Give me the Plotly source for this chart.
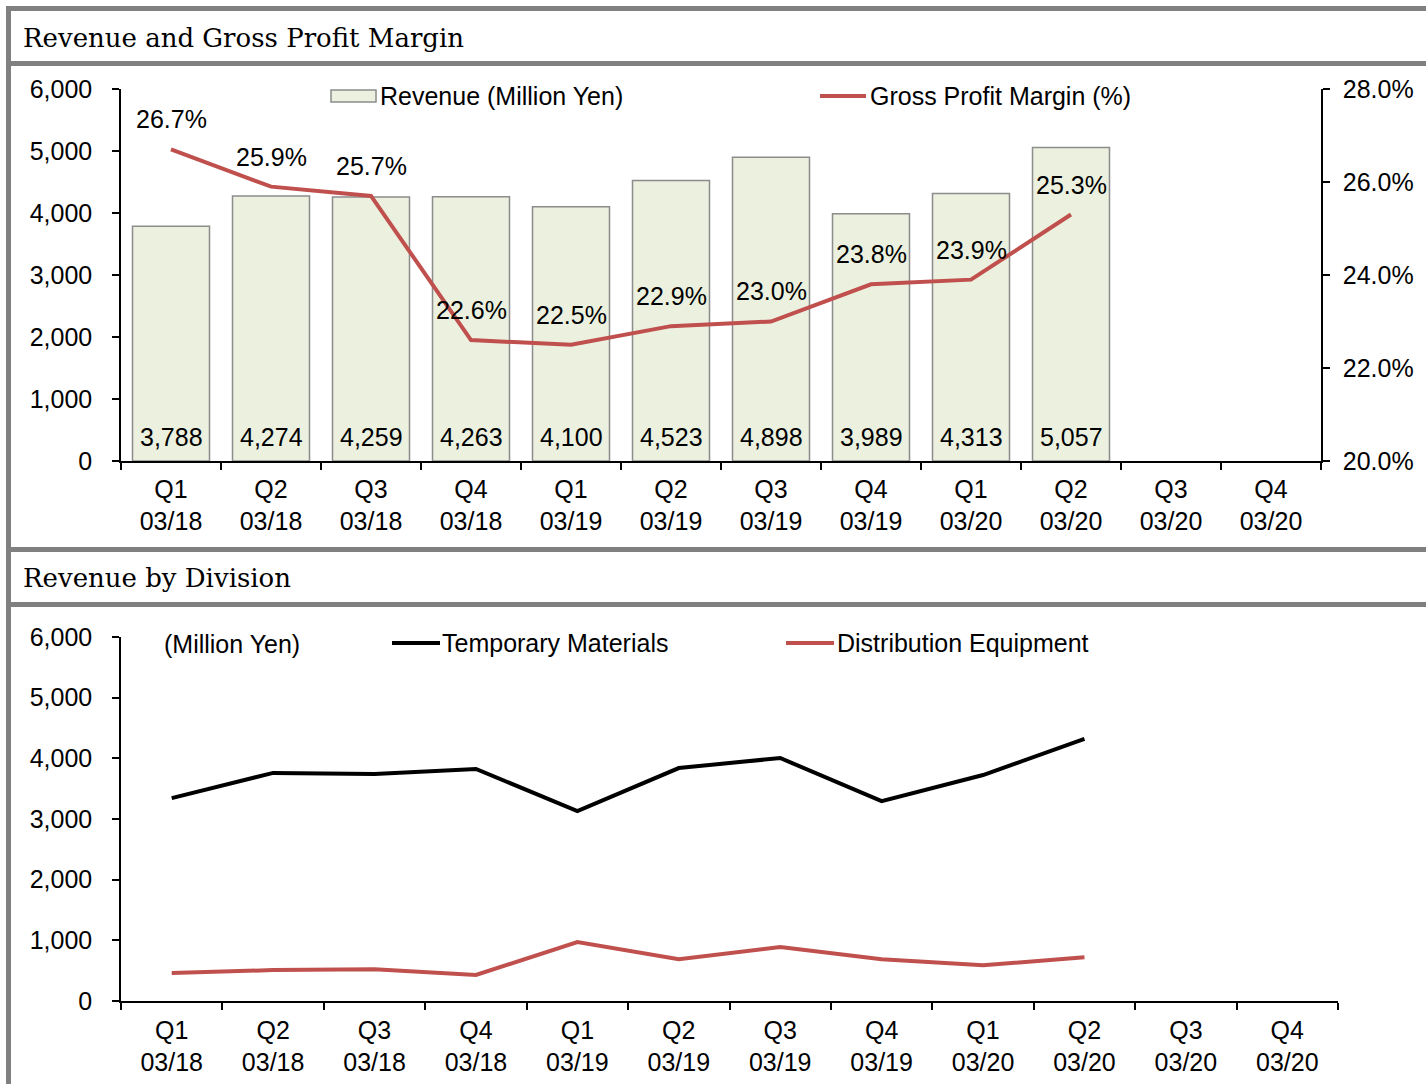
import plotly.graph_objects as go

W, H = 1426, 1084

categories = ["Q1<br>03/18", "Q2<br>03/18", "Q3<br>03/18", "Q4<br>03/18",
              "Q1<br>03/19", "Q2<br>03/19", "Q3<br>03/19", "Q4<br>03/19",
              "Q1<br>03/20", "Q2<br>03/20", "Q3<br>03/20", "Q4<br>03/20"]
revenue = [3788, 4274, 4259, 4263, 4100, 4523, 4898, 3989, 4313, 5057]
gross_margin = [26.7, 25.9, 25.7, 22.6, 22.5, 22.9, 23.0, 23.8, 23.9, 25.3]
temporary_materials = [3345, 3760, 3740, 3825, 3130, 3840, 4005, 3295, 3725, 4320]
distribution_equipment = [460, 510, 525, 430, 970, 690, 890, 690, 590, 720]

FONT = "Liberation Sans"
SERIF = "DejaVu Serif"
FS = 25
RED = "#C0504D"
BAR_FILL = "#EBF1DE"
BAR_LINE = "#8C8C8C"
FRAME = "#808080"


def px(x):
    return x / W


def py(y):
    return 1 - y / H


fig = go.Figure()

n = len(revenue)
fig.add_trace(go.Bar(
    x=categories[:n], y=revenue, xaxis="x", yaxis="y",
    marker=dict(color=BAR_FILL, line=dict(color=BAR_LINE, width=1.5)),
    width=0.77, showlegend=False, hoverinfo="skip"))
fig.add_trace(go.Scatter(
    x=categories[:n], y=gross_margin, xaxis="x", yaxis="y2", mode="lines",
    line=dict(color=RED, width=4), showlegend=False, hoverinfo="skip"))
fig.add_trace(go.Scatter(
    x=categories[:len(temporary_materials)], y=temporary_materials, xaxis="x3", yaxis="y3",
    mode="lines", line=dict(color="#000000", width=4), showlegend=False, hoverinfo="skip"))
fig.add_trace(go.Scatter(
    x=categories[:len(distribution_equipment)], y=distribution_equipment, xaxis="x3", yaxis="y3",
    mode="lines", line=dict(color=RED, width=4), showlegend=False, hoverinfo="skip"))

axis_common = dict(showline=True, linecolor="#000000", linewidth=1.5, ticks="outside",
                   ticklen=7, tickcolor="#000000", tickwidth=1.5, showgrid=False,
                   zeroline=False, automargin=False,
                   tickfont=dict(family=FONT, size=FS, color="#000000"))

fig.update_layout(
    width=W, height=H, margin=dict(l=0, r=0, t=0, b=0, pad=0, autoexpand=False),
    paper_bgcolor="white", plot_bgcolor="white", showlegend=False,
    font=dict(family=FONT, size=FS, color="#000000"),
    xaxis=dict(domain=[px(121), px(1321)], anchor="y", type="category",
               categoryorder="array", categoryarray=categories, range=[-0.5, 11.5],
               tickson="boundaries", ticklabelstandoff=5, **axis_common),
    yaxis=dict(domain=[py(461), py(89)], anchor="x", range=[0, 6000], dtick=1000,
               tickformat=",", ticklabelstandoff=15, **axis_common),
    yaxis2=dict(overlaying="y", anchor="x", side="right", range=[20, 28], dtick=2,
                tickformat=".1f", ticksuffix="%", ticklabelstandoff=8, **axis_common),
    xaxis3=dict(domain=[px(121), px(1338)], anchor="y3", type="category",
                categoryorder="array", categoryarray=categories, range=[-0.5, 11.5],
                tickson="boundaries", ticklabelstandoff=6, **axis_common),
    yaxis3=dict(domain=[py(1001), py(637)], anchor="x3", range=[0, 6000], dtick=1000,
                tickformat=",", ticklabelstandoff=15, **axis_common),
)

annotations = []
# bar value labels
for c, v in zip(categories, revenue):
    annotations.append(dict(x=c, y=0, xref="x", yref="y", text=f"{v:,}", showarrow=False,
                            yanchor="middle", yshift=24, font=dict(size=FS)))
# margin labels
for c, v in zip(categories, gross_margin):
    annotations.append(dict(x=c, y=v, xref="x", yref="y2", text=f"{v:.1f}%", showarrow=False,
                            yanchor="middle", yshift=30, font=dict(size=FS)))

paper_text = [
    ("Revenue and Gross Profit Margin", 21, 38, SERIF, 26),
    ("Revenue by Division", 21, 578, SERIF, 26),
    ("Revenue (Million Yen)", 378, 96, FONT, FS),
    ("Gross Profit Margin (%)", 868, 96, FONT, FS),
    ("(Million Yen)", 162, 644, FONT, FS),
    ("Temporary Materials", 440, 643, FONT, FS),
    ("Distribution Equipment", 835, 643, FONT, FS),
]
for t, x, y, fam, sz in paper_text:
    annotations.append(dict(x=px(x), y=py(y), xref="paper", yref="paper", text=t,
                            showarrow=False, xanchor="left", yanchor="middle",
                            font=dict(family=fam, size=sz, color="#000000")))
fig.update_layout(annotations=annotations)

shapes = []
# frame bands
for (x0, y0, x1, y1) in [(6, 6, W, 11), (6, 6, 11, H), (6, 61, W, 66),
                         (6, 547, W, 552), (6, 602, W, 607)]:
    shapes.append(dict(type="rect", xref="paper", yref="paper", x0=px(x0), x1=px(x1),
                       y0=py(y0), y1=py(y1), fillcolor=FRAME, line=dict(width=0), layer="above"))
# legend symbols
shapes.append(dict(type="rect", xref="paper", yref="paper", x0=px(331), x1=px(376),
                   y0=py(102), y1=py(90), fillcolor=BAR_FILL, line=dict(color=BAR_LINE, width=1.5)))
shapes.append(dict(type="line", xref="paper", yref="paper", x0=px(820), x1=px(866),
                   y0=py(96), y1=py(96), line=dict(color=RED, width=4)))
shapes.append(dict(type="line", xref="paper", yref="paper", x0=px(392), x1=px(440),
                   y0=py(643), y1=py(643), line=dict(color="#000000", width=4)))
shapes.append(dict(type="line", xref="paper", yref="paper", x0=px(786), x1=px(834),
                   y0=py(643), y1=py(643), line=dict(color=RED, width=4)))
fig.update_layout(shapes=shapes)

fig.write_html("out.html", config={"displayModeBar": False},
               post_script="document.body.style.margin='0';")
